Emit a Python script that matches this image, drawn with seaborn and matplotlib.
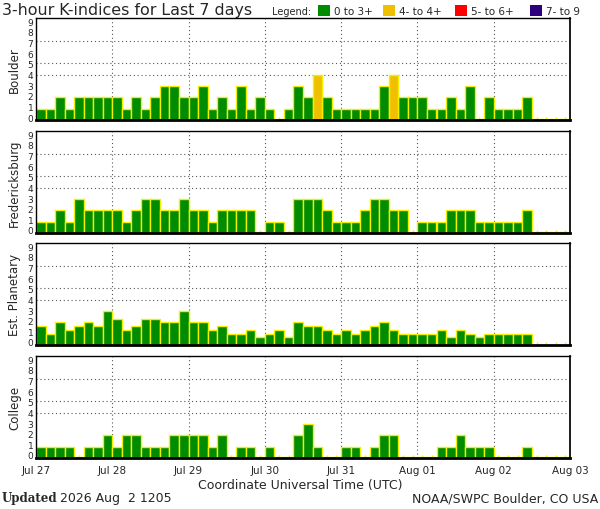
import numpy as np
import pandas as pd
import matplotlib
matplotlib.use("Agg")
import matplotlib.pyplot as plt
import matplotlib.patches as mpatches
import matplotlib.transforms as mtransforms
import seaborn as sns

# --- Data: 3-hour K-indices, 8 per day, Jul 27 .. Aug 02 ---
day_labels = ["Jul 27", "Jul 28", "Jul 29", "Jul 30", "Jul 31", "Aug 01", "Aug 02", "Aug 03"]
stations = ["Boulder", "Fredericksburg", "Est. Planetary", "College"]

boulder = [1, 1, 2, 1, 2, 2, 2, 2,
           2, 1, 2, 1, 2, 3, 3, 2,
           2, 3, 1, 2, 1, 3, 1, 2,
           1, 0, 1, 3, 2, 4, 2, 1,
           1, 1, 1, 1, 3, 4, 2, 2,
           2, 1, 1, 2, 1, 3, 0, 2,
           1, 1, 1, 2, 0, 0, 0, 0]
fredericksburg = [1, 1, 2, 1, 3, 2, 2, 2,
                  2, 1, 2, 3, 3, 2, 2, 3,
                  2, 2, 1, 2, 2, 2, 2, 0,
                  1, 1, 0, 3, 3, 3, 2, 1,
                  1, 1, 2, 3, 3, 2, 2, 0,
                  1, 1, 1, 2, 2, 2, 1, 1,
                  1, 1, 1, 2, 0, 0, 0, 0]
est_planetary = [1.67, 1.00, 2.00, 1.33, 1.67, 2.00, 1.67, 3.00,
                 2.33, 1.33, 1.67, 2.33, 2.33, 2.00, 2.00, 3.00,
                 2.00, 2.00, 1.33, 1.67, 1.00, 1.00, 1.33, 0.67,
                 1.00, 1.33, 0.67, 2.00, 1.67, 1.67, 1.33, 1.00,
                 1.33, 1.00, 1.33, 1.67, 2.00, 1.33, 1.00, 1.00,
                 1.00, 1.00, 1.33, 0.67, 1.33, 1.00, 0.67, 1.00,
                 1.00, 1.00, 1.00, 1.00, np.nan, np.nan, np.nan, np.nan]
college = [1, 1, 1, 1, 0, 1, 1, 2,
           1, 2, 2, 1, 1, 1, 2, 2,
           2, 2, 1, 2, 0, 1, 1, 0,
           1, 0, 0, 2, 3, 1, 0, 0,
           1, 1, 0, 1, 2, 2, 0, 0,
           0, 0, 1, 1, 2, 1, 1, 1,
           0, 0, 0, 1, 0, 0, 0, 0]

series = [boulder, fredericksburg, est_planetary, college]

legend_labels = ["0 to 3+", "4- to 4+", "5- to 6+", "7- to 9"]
level_colors = ["#008c00", "#f0c000", "#ff0000", "#2e0080"]
edge_col = "#f0f000"


def k_class(v):
    if v < 4:
        return legend_labels[0]
    if v < 5:
        return legend_labels[1]
    if v < 7:
        return legend_labels[2]
    return legend_labels[3]


sns.set_theme(style="white")
plt.rcParams["font.family"] = ["DejaVu Sans"]

fig = plt.figure(figsize=(6.0, 5.1), dpi=100)
palette = dict(zip(legend_labels, level_colors))

left, width, height = 36 / 600, 534 / 600, 102 / 510
bottoms_px = [121, 234, 346, 459]
n = len(boulder)

for i, (name, vals) in enumerate(zip(stations, series)):
    ax = fig.add_axes([left, 1 - bottoms_px[i] / 510, width, height])
    df = pd.DataFrame({"pos": np.arange(n, dtype=float), "k": vals}).dropna()
    df["cls"] = df["k"].apply(k_class)
    # zero values are drawn as a thin sliver, like the original plot
    df["shown"] = df["k"].clip(lower=0.12)

    ax.set_axisbelow(True)
    sns.barplot(data=df, x="pos", y="shown", hue="cls", palette=palette,
                native_scale=True, width=1, dodge=False, errorbar=None,
                saturation=1, edgecolor=edge_col, linewidth=1, legend=False, ax=ax)

    ax.set_xlim(-0.5, n - 0.5)
    ax.set_ylim(0, 9)
    day_edges = np.arange(-0.5, n, 8)
    ax.set_xticks(day_edges)
    ax.set_xticks(np.arange(n), minor=True)
    ax.tick_params(axis="x", which="major", length=0, labelsize=7.5, pad=5)
    ax.tick_params(axis="x", which="minor", length=2, width=1, color=edge_col,
                   direction="in", bottom=True)
    if i == len(stations) - 1:
        ax.set_xticklabels(day_labels)
    else:
        ax.set_xticklabels([])
    ax.set_yticks(range(10))
    ax.tick_params(axis="y", length=0, labelsize=6.5, pad=2)
    # the original squeezes its 0..9 labels slightly inside the panel
    for j, lab in enumerate(ax.get_yticklabels()):
        dy = (3.0 - 0.67 * j) / 100
        lab.set_transform(lab.get_transform() +
                          mtransforms.ScaledTranslation(0, dy, fig.dpi_scale_trans))

    for xv in day_edges[1:]:
        ax.axvline(xv, color="#555555", lw=0.8, ls=(0, (1, 2.5)), zorder=0)
    for yv in [4, 5, 7]:
        ax.axhline(yv, color="#555555", lw=0.8, ls=(0, (1, 2.5)), zorder=0)

    ax.set_xlabel("")
    ax.set_ylabel(name, fontsize=8.5)
    ax.yaxis.set_label_coords(-0.028, 0.5)
    for side in ["left", "top"]:
        ax.spines[side].set_color("black")
        ax.spines[side].set_linewidth(1)
    ax.spines["right"].set_color("black")
    ax.spines["right"].set_linestyle((0, (2, 1)))
    ax.spines["bottom"].set_color("black")
    ax.spines["bottom"].set_linewidth(2)

# --- Title and legend ---
fig.text(2 / 600, 1 - 10 / 510, "3-hour K-indices for Last 7 days",
         fontsize=11.4, va="center", ha="left")
fig.text(272 / 600, 1 - 12 / 510, "Legend:", fontsize=7, va="center", ha="left")
box_x = [318, 383, 455, 530]
for bx, lab, col in zip(box_x, legend_labels, level_colors):
    fig.patches.append(mpatches.Rectangle((bx / 600, 1 - 17 / 510), 12 / 600, 11 / 510,
                                          transform=fig.transFigure, facecolor=col,
                                          edgecolor="none"))
    fig.text((bx + 16) / 600, 1 - 12 / 510, lab, fontsize=7.5, va="center", ha="left")

# --- Axis label and footer ---
fig.text(300 / 600, 1 - 486 / 510, "Coordinate Universal Time (UTC)",
         fontsize=9, ha="center", va="center")
fig.text(2 / 600, 1 - 499 / 510, "Updated", fontsize=8.5, fontweight="bold",
         family="DejaVu Serif", ha="left", va="center")
fig.text(60 / 600, 1 - 499 / 510, "2026 Aug  2 1205", fontsize=9,
         ha="left", va="center")
fig.text(598 / 600, 1 - 499 / 510, "NOAA/SWPC Boulder, CO USA", fontsize=9,
         ha="right", va="center")

fig.savefig("out.png", dpi=100, facecolor="white")
